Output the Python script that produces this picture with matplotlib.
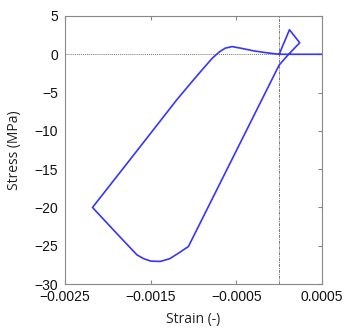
import matplotlib
matplotlib.use("Agg")
import matplotlib.pyplot as plt

# stress-strain path (strain -, stress MPa), in drawing order
strain = [0.0, 0.00012, 0.00024, 0.00011, 0.0,
          -0.00106, -0.00118, -0.00128, -0.00139, -0.00150, -0.00158, -0.00166,
          -0.00188, -0.00218,
          -0.00185, -0.00150, -0.00120, -0.00102, -0.00089, -0.00078, -0.00070,
          -0.00063, -0.00055, -0.00045, -0.00030, -0.00015, 0.0, 0.0005]
stress = [0.0, 3.2, 1.5, 0.0, -1.4,
          -25.1, -26.0, -26.7, -27.05, -27.0, -26.7, -26.2,
          -23.6, -20.0,
          -15.3, -10.3, -6.0, -3.6, -1.9, -0.5, 0.3,
          0.8, 1.0, 0.8, 0.45, 0.2, 0.0, 0.0]

xticks = [-0.0025, -0.0015, -0.0005, 0.0005]
xlabels = ["\u22120.0025", "\u22120.0015", "\u22120.0005", "0.0005"]
yticks = [-30, -25, -20, -15, -10, -5, 0, 5]

fig = plt.figure(figsize=(3.5, 3.33), dpi=100)
ax = fig.add_axes([0.186, 0.147, 0.734, 0.805])

ax.axhline(0, color="#777777", lw=0.7, ls=(0, (1, 1)))
ax.axvline(0, color="#777777", lw=0.7, ls=(0, (3, 1, 1, 1)))
ax.plot(strain, stress, color="#3535ff", lw=1.2)

ax.set_xlim(-0.0025, 0.0005)
ax.set_ylim(-30, 5)
ax.set_xticks(xticks)
ax.set_xticklabels(xlabels)
ax.set_yticks(yticks)

for s in ax.spines.values():
    s.set_color("#888888")
    s.set_linewidth(0.8)

ax.tick_params(axis="both", direction="in", length=3, color="#888888",
               labelsize=10, labelcolor="#111111", pad=2)
ax.tick_params(axis="x", top=True, pad=4)
ax.tick_params(axis="y", left=False, right=True, pad=5)
for lab in ax.get_xticklabels() + ax.get_yticklabels():
    lab.set_family("Liberation Sans")

ax.set_xlabel("Strain (-)", family="Open Sans", fontsize=10, color="#222222", labelpad=6)
ax.set_ylabel("Stress (MPa)", family="Open Sans", fontsize=10, color="#222222", labelpad=9)

fig.savefig("out.png", dpi=100)
